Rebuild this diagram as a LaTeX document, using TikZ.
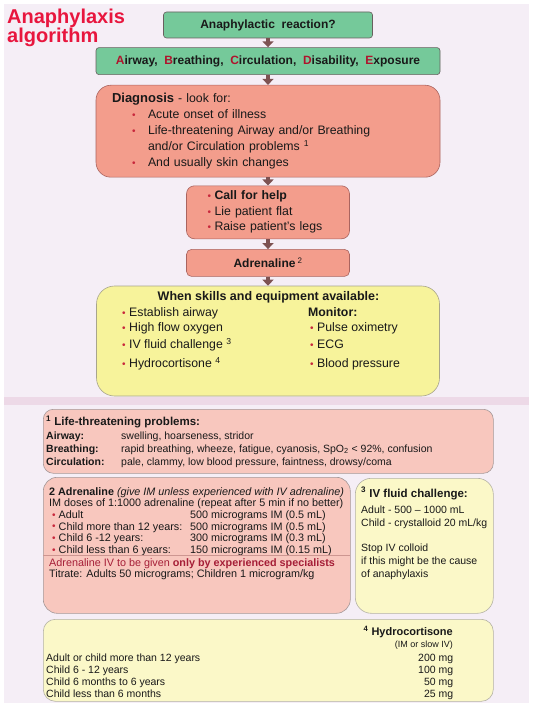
\documentclass[tikz,border=0pt]{standalone}
\usepackage{fontspec}
\setmainfont{Liberation Sans}
\usetikzlibrary{arrows.meta, positioning}
\definecolor{bgLav}{RGB}{245,238,246}
\definecolor{bgBand}{RGB}{237,217,231}
\definecolor{grnFill}{RGB}{117,201,154}
\definecolor{grnEdge}{RGB}{105,95,95}
\definecolor{salFill}{RGB}{243,157,140}
\definecolor{salEdge}{RGB}{170,100,95}
\definecolor{ylwFill}{RGB}{247,243,155}
\definecolor{ylwEdge}{RGB}{168,165,140}
\definecolor{pnkFill}{RGB}{248,199,190}
\definecolor{pnkEdge}{RGB}{165,152,152}
\definecolor{paleFill}{RGB}{251,248,200}
\definecolor{paleEdge}{RGB}{180,178,165}
\definecolor{sepCol}{RGB}{205,150,145}
\definecolor{arrCol}{RGB}{125,82,82}
\definecolor{bulRed}{RGB}{200,40,60}
\definecolor{abcRed}{RGB}{175,20,45}
\definecolor{ttlRed}{RGB}{232,22,62}
\definecolor{ivRed}{RGB}{165,30,55}
\definecolor{txtDark}{RGB}{25,25,25}
\newcommand{\bul}{\raisebox{0.3pt}{\textcolor{bulRed}{\fontsize{10}{10}\selectfont\textbullet}}}
\newcommand{\fnum}[1]{\textsuperscript{#1}}

\begin{document}
\begin{tikzpicture}[x=1pt, y=-1pt,
    box/.style={rectangle, semithick, inner sep=0pt, text=txtDark},
    flowG/.style={box, draw=grnEdge, fill=grnFill, rounded corners=3pt, font=\fontsize{12}{14}\selectfont\bfseries},
    flowS/.style={box, draw=salEdge, fill=salFill},
    flowY/.style={box, draw=ylwEdge, fill=ylwFill, rounded corners=18pt},
    noteP/.style={box, draw=pnkEdge, fill=pnkFill, rounded corners=10pt},
    noteY/.style={box, draw=paleEdge, fill=paleFill, rounded corners=12pt},
    txt/.style={inner sep=0pt, align=left, text=txtDark},
    arrow/.style={-{Triangle[width=11pt, length=6pt]}, line width=4pt, arrCol}
]
\useasboundingbox (0,0) rectangle (534,714);
\fill[white] (0,0) rectangle (534,714);
\fill[bgLav] (4,4) rectangle (529,703);

% --- Title ---
\node[txt, anchor=north west, text=ttlRed, font=\fontsize{20}{18}\selectfont\bfseries] (title) at (7,8.5)
    {Anaphylaxis\\algorithm};

% --- Main flow ---
\node[flowG, minimum width=209pt, minimum height=26pt] (react) at (268,25)
    {Anaphylactic\ \ reaction?};

\node[flowG, minimum width=344pt, minimum height=27pt, below=9pt of react] (abcde)
    {\textcolor{abcRed}{A}irway,\ \ \textcolor{abcRed}{B}reathing,\ \ \textcolor{abcRed}{C}irculation,\ \ \textcolor{abcRed}{D}isability,\ \ \textcolor{abcRed}{E}xposure};

\node[flowS, rounded corners=15pt, text width=312pt, inner xsep=16pt, minimum height=92pt, align=left,
      font=\fontsize{12.3}{16}\selectfont, below=10pt of abcde] (diag)
    {{\fontsize{13}{16}\selectfont\bfseries Diagnosis} - look for:\\
     \hspace*{20pt}\makebox[16pt][l]{\bul}Acute onset of illness\\
     \hspace*{20pt}\makebox[16pt][l]{\bul}Life-threatening Airway and/or Breathing\\
     \hspace*{36pt}and/or Circulation problems \fnum{1}\\
     \hspace*{20pt}\makebox[16pt][l]{\bul}And usually skin changes};

\node[flowS, rounded corners=8pt, text width=121pt, inner xsep=21pt, minimum height=53pt, align=left,
      font=\fontsize{12.3}{15.5}\selectfont, below=8pt of diag] (help)
    {\makebox[7pt][l]{\bul}\textbf{Call for help}\\
     \makebox[7pt][l]{\bul}Lie patient flat\\
     \makebox[7pt][l]{\bul}Raise patient's legs};

\node[flowS, rounded corners=5pt, minimum width=163pt, minimum height=27pt,
      font=\fontsize{12}{14}\selectfont\bfseries, below=10pt of help] (adren)
    {Adrenaline\,\fnum{\mdseries 2}};

\node[flowY, minimum width=343pt, minimum height=110pt, below=9pt of adren] (skills) {};

\node[txt, font=\fontsize{12.5}{14}\selectfont\bfseries] (skillsT) at (268.5,297)
    {When skills and equipment available:};
\node[txt, anchor=north west, font=\fontsize{12.3}{15}\selectfont] (skillsL) at (122,307.4)
    {\makebox[7pt][l]{\bul}Establish airway\\
     \makebox[7pt][l]{\bul}High flow oxygen\\[2pt]
     \makebox[7pt][l]{\bul}IV fluid challenge \fnum{3}\\[4pt]
     \makebox[7pt][l]{\bul}Hydrocortisone \fnum{4}};
\node[txt, anchor=north west, font=\fontsize{12.3}{15}\selectfont] (skillsR) at (308,307.4)
    {\textbf{Monitor:}\\
     \hspace*{2pt}\makebox[7pt][l]{\bul}Pulse oximetry\\[2pt]
     \hspace*{2pt}\makebox[7pt][l]{\bul}ECG\\[4pt]
     \hspace*{2pt}\makebox[7pt][l]{\bul}Blood pressure};

% === ARROWS ===
\draw[arrow] (react) -- (abcde);
\draw[arrow] (abcde) -- (diag);
\draw[arrow] (diag) -- (help);
\draw[arrow] (help) -- (adren);
\draw[arrow] (adren) -- (skills);

% --- Notes section ---
\fill[bgBand] (4,397) rectangle (529,405);

\node[noteP, minimum width=450pt, minimum height=64pt, anchor=north west] (lifeT) at (43,409) {};
\node[txt, anchor=north west, font=\fontsize{10.5}{13.2}\selectfont] (lifeTx) at (46,415.8)
    {\begin{tabular}{@{}p{75pt}@{}l@{}}
     \multicolumn{2}{@{}l@{}}{\fontsize{11.5}{13}\selectfont\bfseries\fnum{1} Life-threatening problems:}\\
     \textbf{Airway:} & swelling, hoarseness, stridor\\
     \textbf{Breathing:} & rapid breathing, wheeze, fatigue, cyanosis, SpO\textsubscript{2} < 92\%, confusion\\
     \textbf{Circulation:} & pale, clammy, low blood pressure, faintness, drowsy/coma
     \end{tabular}};

\node[noteP, rounded corners=14pt, minimum width=307pt, minimum height=136pt, anchor=north west] (adrIM) at (43,477) {};
\node[txt, anchor=north west, font=\fontsize{10.8}{11.6}\selectfont] (adrTx) at (49,487)
    {\begin{tabular}{@{}p{141pt}@{}l@{}}
     \multicolumn{2}{@{}l@{}}{\textbf{2 Adrenaline} \textit{(give IM unless experienced with IV adrenaline)}}\\
     \multicolumn{2}{@{}l@{}}{IM doses of 1:1000 adrenaline (repeat after 5 min if no better)}\\
     \hspace*{3pt}\bul\ Adult & 500 micrograms IM (0.5 mL)\\
     \hspace*{3pt}\bul\ Child more than 12 years: & 500 micrograms IM (0.5 mL)\\
     \hspace*{3pt}\bul\ Child 6 -12 years: & 300 micrograms IM (0.3 mL)\\
     \hspace*{3pt}\bul\ Child less than 6 years: & 150 micrograms IM (0.15 mL)
     \end{tabular}};
\draw[sepCol, semithick] (43,555.5) -- (350,555.5);
\node[txt, anchor=north west, font=\fontsize{10.8}{11.6}\selectfont] (adrIV) at (49,558)
    {\begin{tabular}{@{}l@{}}
     \textcolor{ivRed}{Adrenaline IV to be given \textbf{only by experienced specialists}}\\
     Titrate: Adults 50 micrograms; Children 1 microgram/kg
     \end{tabular}};

\node[noteY, rounded corners=16pt, minimum width=138pt, minimum height=135pt, anchor=north west] (ivBox) at (355,478) {};
\node[txt, anchor=north west, font=\fontsize{10.5}{13}\selectfont] (ivTx) at (361,487)
    {\begin{tabular}{@{}l@{}}
     {\fontsize{11.5}{13}\selectfont\bfseries\fnum{3} IV fluid challenge:}\\[3pt]
     Adult - 500 -- 1000 mL\\
     Child - crystalloid 20 mL/kg\\[12pt]
     Stop IV colloid\\
     if this might be the cause\\
     of anaphylaxis
     \end{tabular}};

\node[noteY, minimum width=450pt, minimum height=82pt, anchor=north west] (hydro) at (43,619) {};
\node[txt, anchor=base east, font=\fontsize{11}{13}\selectfont\bfseries] (hydroT) at (453,635)
    {\fnum{4} Hydrocortisone};
\node[txt, anchor=base east, font=\fontsize{9}{11}\selectfont] (hydroS) at (453,647)
    {(IM or slow IV)};
\node[txt, anchor=north west, font=\fontsize{10.5}{12}\selectfont] (hydroTx) at (46,652.6)
    {\begin{tabular*}{407pt}{@{}l@{\extracolsep{\fill}}r@{}}
     Adult or child more than 12 years & 200 mg\\
     Child 6 - 12 years & 100 mg\\
     Child 6 months to 6 years & 50 mg\\
     Child less than 6 months & 25 mg
     \end{tabular*}};

\end{tikzpicture}
\end{document}
